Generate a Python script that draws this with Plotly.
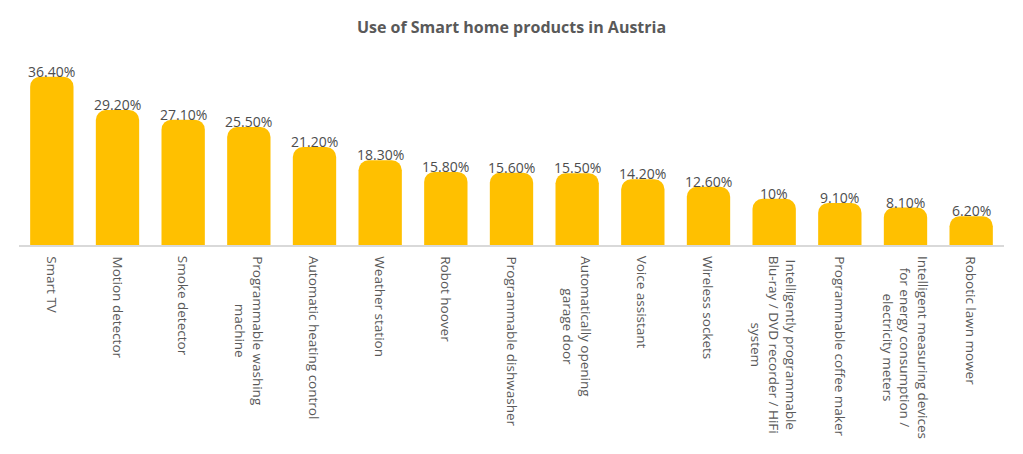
import plotly.graph_objects as go

categories = [
    "Smart TV",
    "Motion detector",
    "Smoke detector",
    "Programmable washing<br>machine",
    "Automatic heating control",
    "Weather station",
    "Robot hoover",
    "Programmable dishwasher",
    "Automatically opening<br>garage door",
    "Voice assistant",
    "Wireless sockets",
    "Intelligently programmable<br>Blu-ray / DVD recorder / HiFi<br>system",
    "Programmable coffee maker",
    "Intelligent measuring devices<br>for energy consumption /<br>electricity meters",
    "Robotic lawn mower",
]
values = [36.4, 29.2, 27.1, 25.5, 21.2, 18.3, 15.8, 15.6, 15.5, 14.2, 12.6, 10.0, 9.1, 8.1, 6.2]
labels = ["36.40%", "29.20%", "27.10%", "25.50%", "21.20%", "18.30%", "15.80%", "15.60%",
          "15.50%", "14.20%", "12.60%", "10%", "9.10%", "8.10%", "6.20%"]

FONT = "Open Sans"

fig = go.Figure(go.Bar(
    x=categories,
    y=values,
    marker=dict(color="#FFC000", cornerradius=10, line=dict(width=0)),
    width=0.66,
    hoverinfo="x+y",
))

# data labels sitting just on top of the bars
for cat, val, lab in zip(categories, values, labels):
    fig.add_annotation(
        x=cat, y=val, xref="x", yref="y",
        text=lab, showarrow=False,
        xanchor="center", yanchor="bottom", yshift=-6,
        font=dict(family=FONT, size=14, color="#4D4D4D"),
    )

# category labels, rotated, lines centred
for cat in categories:
    fig.add_annotation(
        x=cat, y=0, xref="x", yref="y",
        text=cat, textangle=90, showarrow=False,
        xanchor="center", yanchor="top", yshift=-9,
        align="center",
        font=dict(family=FONT, size=13.5, color="#595959"),
    )

fig.update_layout(
    width=1007,
    height=438,
    paper_bgcolor="white",
    plot_bgcolor="white",
    margin=dict(l=11, r=11, t=52, b=201),
    title=dict(
        text="<b>Use of Smart home products in Austria</b>",
        x=0.5, xanchor="center", y=0.955, yanchor="middle",
        font=dict(family=FONT, size=16, color="#595959"),
    ),
    showlegend=False,
)
fig.update_xaxes(
    showticklabels=False,
    showline=True, linecolor="#D9D9D9", linewidth=1.5,
    ticks="", showgrid=False,
)
fig.update_yaxes(
    range=[0, 40], visible=False, showgrid=False,
)

fig.write_html("out.html")
